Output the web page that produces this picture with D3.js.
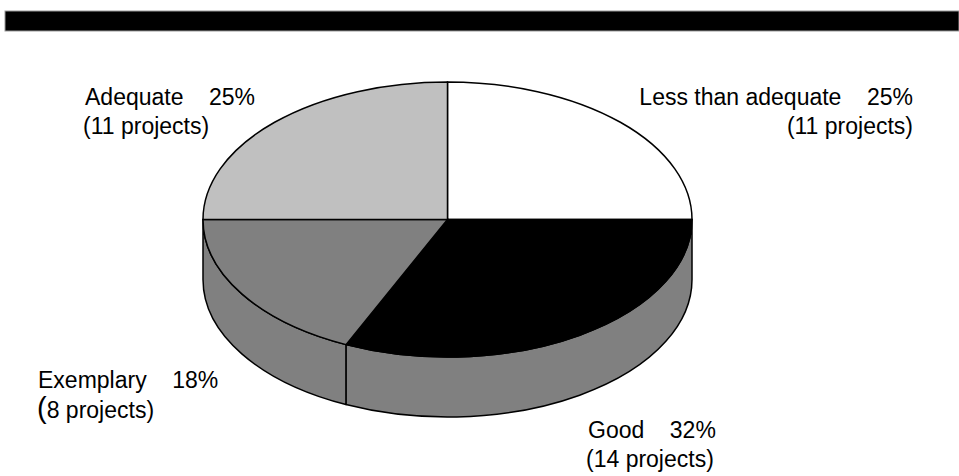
<!DOCTYPE html>
<html>
<head>
<meta charset="utf-8">
<script src="https://cdn.jsdelivr.net/npm/d3@7"></script>
<style>
  body { margin: 0; background: #fff; }
  text { font-family: "Liberation Sans", Arial, sans-serif; font-size: 23px; fill: #000; white-space: pre; }
</style>
</head>
<body>
<div id="chart"></div>
<script>
var width = 959, height = 476;

// data, clockwise from 12 o'clock
var categories = ["Less than adequate", "Good", "Exemplary", "Adequate"];
var projects = [11, 14, 8, 11];
var percents = ["25%", "32%", "18%", "25%"];
var topColors = ["#ffffff", "#000000", "#808080", "#c0c0c0"];
var sideColors = ["#808080", "#808080", "#808080", "#808080"];

// pie geometry
var cx = 447.5, cy = 219.5, rx = 244.5, ry = 137.5, depth = 60;

var svg = d3.select("#chart").append("svg")
    .attr("width", width)
    .attr("height", height);

// black bar at the top
svg.append("rect")
    .attr("x", 5).attr("y", 11)
    .attr("width", 954).attr("height", 20)
    .attr("fill", "#000")
    .attr("stroke", "#999")
    .attr("stroke-width", 1);

var pie = d3.pie().sort(null).value(function (d) { return d; });
var arcs = pie(projects);

function pt(a, dy) {
    return [cx + rx * Math.sin(a), cy - ry * Math.cos(a) + (dy || 0)];
}

// side walls (front half only: pi/2 .. 3pi/2)
var side = svg.append("g");
arcs.forEach(function (d, i) {
    var a0 = Math.max(d.startAngle, Math.PI / 2),
        a1 = Math.min(d.endAngle, 3 * Math.PI / 2);
    if (a1 <= a0) return;
    var p0 = pt(a0), p1 = pt(a1), q1 = pt(a1, depth), q0 = pt(a0, depth);
    var path = "M" + p0 + "A" + rx + "," + ry + " 0 0 1 " + p1 +
        "L" + q1 + "A" + rx + "," + ry + " 0 0 0 " + q0 + "Z";
    side.append("path")
        .attr("d", path)
        .attr("fill", sideColors[i])
        .attr("stroke", "#000")
        .attr("stroke-width", 1.5)
        .attr("stroke-linejoin", "round");
});

// top faces: unit arcs stretched into an ellipse
var arc = d3.arc().innerRadius(0).outerRadius(1);
svg.append("g")
    .attr("transform", "translate(" + cx + "," + cy + ") scale(" + rx + "," + ry + ")")
    .selectAll("path")
    .data(arcs)
    .enter().append("path")
    .attr("d", arc)
    .attr("fill", function (d, i) { return topColors[i]; })
    .attr("stroke", "#000")
    .attr("stroke-width", 1.5)
    .attr("vector-effect", "non-scaling-stroke");

// labels
var labels = [
    { i: 0, x: 913, y: 105, anchor: "end" },
    { i: 1, x: 588, y: 438, anchor: "start" },
    { i: 2, x: 38, y: 388, anchor: "start" },
    { i: 3, x: 85, y: 105, anchor: "start" }
];

labels.forEach(function (l) {
    svg.append("text")
        .attr("x", l.x).attr("y", l.y)
        .attr("text-anchor", l.anchor)
        .text(categories[l.i] + "    " + percents[l.i]);
    var t2 = svg.append("text")
        .attr("x", l.anchor === "end" ? l.x : l.x - 2)
        .attr("y", l.y + 29)
        .attr("text-anchor", l.anchor);
    if (l.i === 2) {
        t2.attr("x", l.x - 1).attr("y", l.y + 30);
        t2.append("tspan").style("font-size", "29px").text("(");
        t2.append("tspan").text(projects[l.i] + " projects)");
    } else {
        t2.text("(" + projects[l.i] + " projects)");
    }
});
</script>
</body>
</html>
